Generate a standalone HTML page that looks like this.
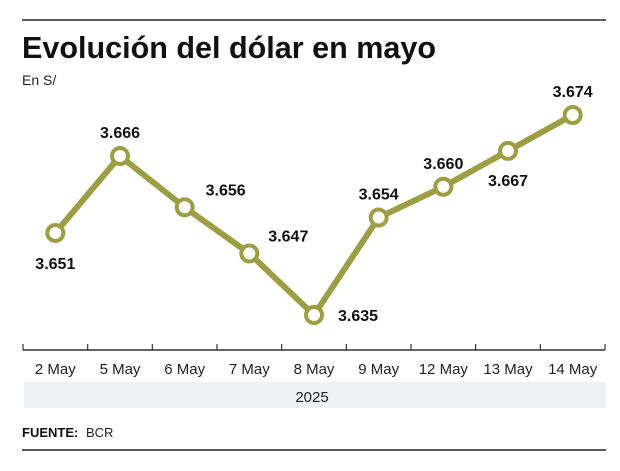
<!DOCTYPE html>
<html><head><meta charset="utf-8"><style>
body{margin:0;background:#fff;width:620px;height:466px;overflow:hidden;font-family:"Liberation Sans",sans-serif}
</style></head><body>
<svg width="620" height="466" xmlns="http://www.w3.org/2000/svg">
<line x1="22" y1="20" x2="606" y2="20" stroke="#222" stroke-width="1.5"/>
<text x="22" y="58" font-size="31" font-weight="bold" fill="#111" textLength="414" lengthAdjust="spacingAndGlyphs">Evolución del dólar en mayo</text>
<text x="22" y="85" font-size="14" fill="#222">En S/</text>
<g id="axis"></g>
<g id="series"></g>
<rect x="24" y="382" width="582" height="26" fill="#eef0f1"/>
<text x="312" y="402" font-size="15" fill="#222" text-anchor="middle">2025</text>
<text x="22" y="437" font-size="13" font-weight="bold" fill="#111">FUENTE:</text>
<text x="86" y="437" font-size="13" fill="#222">BCR</text>
<line x1="22" y1="450" x2="606" y2="450" stroke="#222" stroke-width="1.5"/>
</svg>
<script>
const categories=["2 May","5 May","6 May","7 May","8 May","9 May","12 May","13 May","14 May"];
const values=[3.651,3.666,3.656,3.647,3.635,3.654,3.660,3.667,3.674];
const labelBelow=[true,false,false,false,true,false,false,true,false];
const NS="http://www.w3.org/2000/svg";
const x0=23,x1=605,n=categories.length,step=(x1-x0)/n;
const xs=i=>x0+step*(i+0.5);
const ys=v=>115+(3.674-v)*5128;
function el(t,a,p){const e=document.createElementNS(NS,t);for(const k in a)e.setAttribute(k,a[k]);p.appendChild(e);return e;}
const ax=document.getElementById('axis'),sr=document.getElementById('series');
let l=el('line',{x1:x0,y1:350,x2:x1,y2:350,stroke:'#333','stroke-width':1.5},ax);


for(let i=0;i<=n;i++){let t=el('line',{x1:x0+step*i,y1:344,x2:x0+step*i,y2:350,stroke:'#333','stroke-width':1.2},ax);

}
categories.forEach((c,i)=>{let t=el('text',{x:xs(i),y:374,'font-size':15,fill:'#222','text-anchor':'middle'},ax);t.textContent=c;

});
let p=el('polyline',{points:values.map((v,i)=>xs(i)+','+ys(v)).join(' '),fill:'none',stroke:'#9d9e42','stroke-width':6,'stroke-linejoin':'round'},sr);


values.forEach((v,i)=>{let c=el('circle',{cx:xs(i),cy:ys(v),r:8,fill:'#fff',stroke:'#9d9e42','stroke-width':4},sr);


let t=el('text',{x:xs(i),y:labelBelow[i]?ys(v)+36:ys(v)-18,'font-size':16,'font-weight':'bold',fill:'#111','text-anchor':'middle'},sr);
if(i===4){t.setAttribute('x',xs(i)+44);t.setAttribute('y',ys(v)+6);}
if(i===3){t.setAttribute('x',xs(i)+39);t.setAttribute('y',ys(v)-12);}
if(i===2){t.setAttribute('x',xs(i)+41);t.setAttribute('y',ys(v)-12);}
if(i===7){t.setAttribute('y',ys(v)+35);}
t.textContent=v.toFixed(3);

});
</script>
</body></html>
